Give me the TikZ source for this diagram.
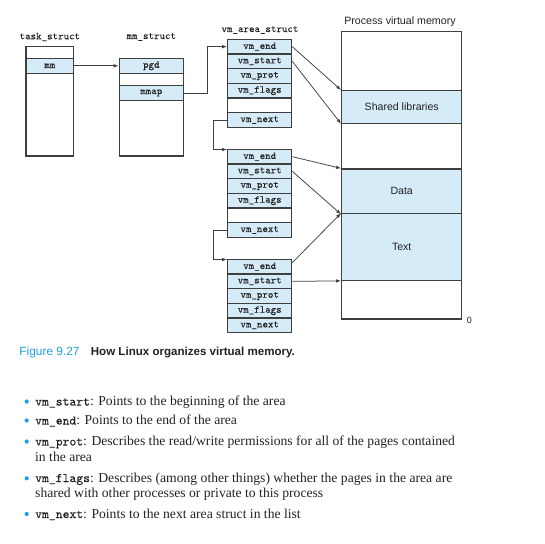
\documentclass[tikz,border=0pt]{standalone}
\usepackage{fontspec}
\setmainfont{Liberation Serif}
\setmonofont{lmmono10-regular}[Extension=.otf, FakeBold=0.1]
\newfontfamily\hvfont{Liberation Sans}
\usetikzlibrary{arrows.meta}
\definecolor{boxfill}{HTML}{D6EBF8}
\definecolor{linec}{HTML}{3F3F3F}
\definecolor{capblue}{HTML}{1FA0DF}
\definecolor{txt}{HTML}{222222}
\newcommand\myfs[1]{\fontsize{#1}{#1}\selectfont}
\newcommand\mytt[1]{{\ttfamily\myfs{13.1}#1}}
\begin{document}
\begin{tikzpicture}[x=1bp,y=-1bp,
  row/.style={draw=linec, line width=1.2bp, fill=boxfill, minimum width=64bp, minimum height=14.67bp, inner sep=0pt, font=\ttfamily\myfs{10.5}, text=txt},
  erow/.style={row, fill=white},
  frame/.style={draw=linec, line width=1.2bp, inner sep=0pt},
  arr/.style={draw=linec, line width=0.75bp, -{Latex[length=5bp,width=3.5bp]}},
  lbl/.style={font=\ttfamily\myfs{10.5}, text=txt, inner sep=0pt},
  band/.style={draw=linec, line width=1.2bp, fill=boxfill, minimum width=120bp, inner sep=0pt, font=\hvfont\myfs{10.6}, text=txt},
  body/.style={anchor=base west, inner sep=0pt, font=\myfs{13.7}, text=txt},
  dot/.style={circle, fill=capblue, inner sep=0pt, minimum size=4.2bp}
]
\useasboundingbox (0,0) rectangle (545,544);
% task_struct
\node[frame, minimum width=47.7bp, minimum height=109.3bp] (ts) at (49.85,101.35) {};
\node[row, minimum width=47.7bp, minimum height=15bp] (mm) at (49.85,65.8) {mm};
\node[lbl] (tsl) at (49.85,37) {task\_struct};
% mm_struct
\node[frame, minimum width=64bp, minimum height=97.7bp] (ms) at (151.3,107.15) {};
\node[row] (pgd) at (151.3,65.8) {pgd};
\node[row] (mmap) at (151.3,93) {mmap};
\node[lbl] (msl) at (151.3,37) {mm\_struct};
% vm_area_struct 1
\node[lbl] (val) at (260,30) {vm\_area\_struct};
\node[row] (a1end) at (259.7,46.67) {vm\_end};
\node[row] (a1start) at (259.7,61.33) {vm\_start};
\node[row] (a1prot) at (259.7,76) {vm\_prot};
\node[row] (a1flags) at (259.7,90.67) {vm\_flags};
\node[erow] (a1empty) at (259.7,105.33) {};
\node[row] (a1next) at (259.7,120) {vm\_next};
% vm_area_struct 2
\node[row] (b1end) at (259.7,156.67) {vm\_end};
\node[row] (b1start) at (259.7,171.33) {vm\_start};
\node[row] (b1prot) at (259.7,186) {vm\_prot};
\node[row] (b1flags) at (259.7,200.67) {vm\_flags};
\node[erow] (b1empty) at (259.7,215.33) {};
\node[row] (b1next) at (259.7,230) {vm\_next};
% vm_area_struct 3
\node[row] (c1end) at (259.7,266.67) {vm\_end};
\node[row] (c1start) at (259.7,281.33) {vm\_start};
\node[row] (c1prot) at (259.7,296) {vm\_prot};
\node[row] (c1flags) at (259.7,310.67) {vm\_flags};
\node[row] (c1next) at (259.7,325.33) {vm\_next};
% process virtual memory
\node[font=\hvfont\myfs{10.7}, text=txt, inner sep=0pt] (pvl) at (400,21.7) {Process virtual memory};
\node[frame, minimum width=120bp, minimum height=287.3bp] (pvm) at (401.7,175.35) {};
\node[band, minimum height=32.6bp] (shl) at (401.7,107) {Shared libraries};
\node[band, minimum height=44.7bp] (data) at (401.7,191.35) {Data};
\node[band, minimum height=66.6bp] (text) at (401.7,247) {Text};
\node[font=\hvfont\myfs{9}, text=txt, inner sep=0pt] (zero) at (469.3,320) {0};
% connectors
\draw[arr] (mm) -- (pgd);
\draw[arr] (mmap.east) -- ++(23.4,0) |- (a1end.west);
\draw[arr] (a1next.west) -- ++(-13.4,0) |- ([yshift=-0.8bp]b1end.north west);
\draw[arr] (b1next.west) -- ++(-13.4,0) |- ([yshift=-0.8bp]c1end.north west);
\draw[arr] (a1end.east) -- (shl.north west);
\draw[arr] (a1start.east) -- (shl.south west);
\draw[arr] (b1end.east) -- (data.north west);
\draw[arr] (b1start.east) -- (data.south west);
\draw[arr] (c1end.7) -- (text.north west);
\draw[arr] (c1start.east) -- (text.south west);
% caption
\node[anchor=base west, inner sep=0pt, font=\hvfont\myfs{11.9}, text=capblue] (fig) at (19.3,355) {Figure 9.27};
\node[anchor=base west, inner sep=0pt, font=\hvfont\bfseries\myfs{11.6}, text=txt] (cap) at (90.7,355) {How Linux organizes virtual memory.};
% bullets
\node[dot] (d1) at (26.7,401.5) {};
\node[dot] (d2) at (26.7,420.5) {};
\node[dot] (d3) at (26.7,441.5) {};
\node[dot] (d4) at (26.7,478.3) {};
\node[dot] (d5) at (26.7,514) {};
\node[body] (l1) at (35,405.5) {\mytt{vm\_start}: Points to the beginning of the area};
\node[body] (l2) at (35,424.5) {\mytt{vm\_end}: Points to the end of the area};
\node[body] (l3) at (35,445.5) {\mytt{vm\_prot}: Describes the read/write permissions for all of the pages contained};
\node[body] (l4) at (35,461) {in the area};
\node[body] (l5) at (35,482) {\mytt{vm\_flags}: Describes (among other things) whether the pages in the area are};
\node[body] (l6) at (35,497) {shared with other processes or private to this process};
\node[body] (l7) at (35,518) {\mytt{vm\_next}: Points to the next area struct in the list};
\end{tikzpicture}
\end{document}
